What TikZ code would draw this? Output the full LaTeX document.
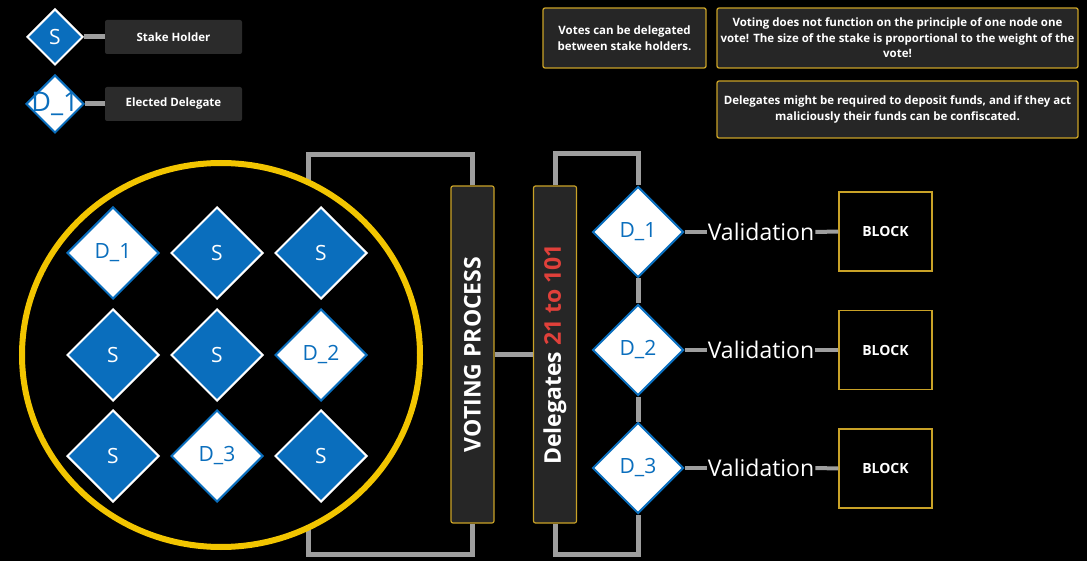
\documentclass[tikz,border=0pt]{standalone}
\usepackage{fontspec}
\setmainfont{Open Sans}
\usetikzlibrary{shapes.geometric,calc}
\definecolor{blu}{HTML}{0A6EBD}
\definecolor{gry}{HTML}{9E9E9E}
\definecolor{boxc}{HTML}{262626}
\definecolor{legc}{HTML}{2B2B2B}
\definecolor{ylw}{HTML}{F2C500}
\definecolor{gold}{HTML}{C9A227}
\definecolor{redt}{HTML}{E0403A}
\begin{document}
\begin{tikzpicture}[x=1pt,y=-1pt,
  sdia/.style={diamond, aspect=1, inner sep=0pt, minimum width=92pt, minimum height=92pt,
    fill=blu, draw=white, line width=2pt, text=white, font=\fontsize{21}{24}\selectfont},
  ddia/.style={sdia, fill=white, draw=blu, text=blu},
  wire/.style={draw=gry, line width=5pt},
  thinwire/.style={draw=gry, line width=4pt},
  legbox/.style={rectangle, rounded corners=2pt, fill=legc, minimum width=137pt, minimum height=34pt,
    text=white, font=\bfseries\fontsize{11.5}{14}\selectfont},
  note/.style={rectangle, rounded corners=2pt, fill=boxc, draw=gold, line width=1.3pt,
    text=white, align=center, inner sep=0pt, font=\bfseries\fontsize{11.5}{15.5}\selectfont},
  tallbox/.style={rectangle, rounded corners=2pt, fill=boxc, draw=gold, line width=1.2pt,
    minimum width=43pt, minimum height=337pt, inner sep=0pt},
  tallText/.style={rotate=90, text=white, font=\bfseries\fontsize{23}{26}\selectfont},
  blockbox/.style={rectangle, fill=black, draw=gold, line width=1.5pt, minimum width=93pt,
    minimum height=79pt, text=white, font=\bfseries\fontsize{14}{16}\selectfont},
  valtxt/.style={text=white, inner sep=1pt, font=\fontsize{23}{26}\selectfont}
]
\fill[black] (0,0) rectangle (1087,561);
\useasboundingbox (0,0) rectangle (1087,561);

% legend
\node[sdia, minimum width=56pt, minimum height=56pt] (ls) at (55,37) {S};
\node[legbox] (lsb) at (173.5,37) {Stake Holder};
\draw[wire] (ls.east) -- (lsb.west);
\node[ddia, minimum width=58pt, minimum height=58pt] (ld) at (55,104) {};
\node[text=blu, inner sep=0pt, font=\fontsize{27}{30}\selectfont] (ldt) at (ld) {D\_1};
\node[legbox] (leb) at (173.5,104) {Elected Delegate};
\draw[wire] (ld.east) -- (leb.west);

% notes
\node[note, minimum width=163pt, minimum height=60pt] (n1) at (624.5,38)
  {Votes can be delegated\\between stake holders.};
\node[note, minimum width=361pt, minimum height=60pt] (n2) at (897.5,38)
  {Voting does not function on the principle of one node one\\vote! The size of the stake is proportional to the weight of the\\vote!};
\node[note, minimum width=361pt, minimum height=57pt] (n3) at (897.5,109.5)
  {Delegates might be required to deposit funds, and if they act\\maliciously their funds can be confiscated.};

% voting boxes
\node[tallbox] (vote) at (472.5,354.5) {};
\node[tallText] (votet) at (vote) {VOTING PROCESS};
\node[tallbox] (dele) at (555,354.5) {};
\node[tallText] (delet) at (dele) {Delegates \textcolor{redt}{21 to 101}};

% circle group (ellipse covers the wire ends)
\coordinate (cc) at (221,355);
\draw[wire, line join=miter] ($(cc)+(87,-120)$) |- ($(vote.north)+(0,-31)$) -- (vote.north);
\draw[wire, line join=miter] ($(cc)+(87,120)$) |- ($(vote.south)+(0,31)$) -- (vote.south);
\draw[wire] (vote.east) -- (dele.west);
\node[ellipse, draw=ylw, fill=black, line width=6pt, inner sep=0pt,
      minimum width=398pt, minimum height=384pt] (circ) at (cc) {};

\node[ddia] (g11) at (113,253) {D\_1};
\node[sdia] (g12) at (217,253) {S};
\node[sdia] (g13) at (321,253) {S};
\node[sdia] (g21) at (113,355) {S};
\node[sdia] (g22) at (217,355) {S};
\node[ddia] (g23) at (321,355) {D\_2};
\node[sdia] (g31) at (113,456) {S};
\node[ddia] (g32) at (217,456) {D\_3};
\node[sdia] (g33) at (321,456) {S};

% delegates
\node[ddia, minimum width=91pt, minimum height=91pt] (r1) at (638,232) {D\_1};
\node[ddia, minimum width=91pt, minimum height=91pt] (r2) at (638,350) {D\_2};
\node[ddia, minimum width=91pt, minimum height=91pt] (r3) at (638,468) {D\_3};

\draw[wire, line join=miter] (dele.north) -- ++(0,-32) -| (r1.north);
\draw[wire] (r1.south) -- (r2.north);
\draw[wire] (r2.south) -- (r3.north);
\draw[wire, line join=miter] (dele.south) -- ++(0,31) -| (r3.south);

% validation and blocks
\foreach \i/\y/\by in {1/232/231.5, 2/350/350, 3/468/468.5} {
  \node[valtxt] (v\i) at (761,\y) {Validation};
  \node[blockbox] (b\i) at (885.5,\by) {BLOCK};
  \draw[thinwire] (r\i.east) -- (v\i.west);
  \draw[thinwire] (v\i.east) -- (b\i.west);
}
\end{tikzpicture}
\end{document}
